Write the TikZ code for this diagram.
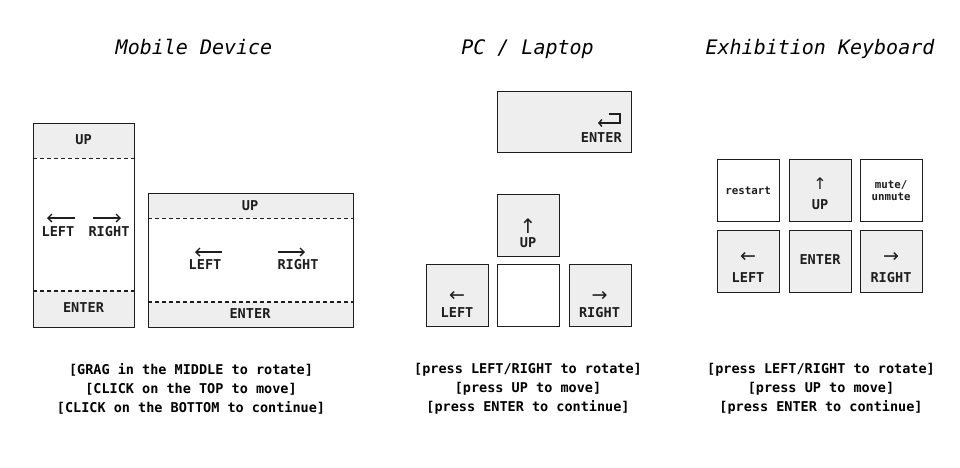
\documentclass[tikz,border=0pt]{standalone}
\usepackage{fontspec}
\newfontfamily\mono{DejaVu Sans Mono}
\newfontfamily\arrowfont{DejaVu Sans}
\usetikzlibrary{arrows.meta}
\definecolor{keyfill}{HTML}{EEEEEE}
\definecolor{keyline}{HTML}{1E1E1E}
\begin{document}
\begin{tikzpicture}[x=1pt,y=-1pt,
  frame/.style={draw=keyline, line width=1.4pt, inner sep=0pt, anchor=north west},
  key/.style={frame, fill=keyfill, minimum width=62pt, minimum height=62pt},
  wkey/.style={frame, fill=white, minimum width=62pt, minimum height=62pt},
  sect/.style={fill=keyfill, inner sep=0pt, anchor=north west},
  lbl/.style={font=\mono\bfseries\fontsize{13.6}{16}\selectfont, text=keyline, inner sep=0pt},
  small/.style={font=\mono\bfseries\fontsize{10.8}{11}\selectfont, text=keyline, inner sep=0pt, align=center},
  title/.style={font=\mono\itshape\fontsize{20}{22}\selectfont, text=black, inner sep=0pt, anchor=base},
  note/.style={font=\mono\bfseries\fontsize{13.5}{19}\selectfont, text=black, inner sep=0pt, align=center},
  sep/.style={draw=keyline, line width=1.4pt, dash pattern=on 4pt off 3pt},
  longarrow/.style={draw=keyline, line width=1.4pt, -{Straight Barb[length=4pt,width=8pt]}},
  arr/.style={font=\arrowfont\fontsize{19}{19}\selectfont, text=keyline, inner sep=0pt},
]
\useasboundingbox[fill=white] (0,0) rectangle (960,467);

% titles
\node[title] (t1) at (194,54) {Mobile Device};
\node[title] (t2) at (527.5,54) {PC / Laptop};
\node[title] (t3) at (820,54) {Exhibition Keyboard};

% ---------- mobile portrait ----------
\node[sect, minimum width=101pt, minimum height=35pt] (pup) at (33,123) {};
\node[sect, minimum width=101pt, minimum height=36pt] (pdn) at (33,291) {};
\path[sep] (pup.south west) -- (pup.south east);
\path[sep] (pdn.north west) -- (pdn.north east);
\node[frame, minimum width=101pt, minimum height=204pt] (port) at (33,123) {};
\node[lbl] (pupl) at (83.5,140) {UP};
\node[lbl] (pdnl) at (83.5,308) {ENTER};
\node[lbl] (pleft) at (58,232) {LEFT};
\node[lbl] (pright) at (109,232) {RIGHT};
\coordinate (pla) at (75,218); \coordinate (plb) at (47,218);
\coordinate (pra) at (93,218); \coordinate (prb) at (121,218);
\path[longarrow] (pla) -- (plb);
\path[longarrow] (pra) -- (prb);

% ---------- mobile landscape ----------
\node[sect, minimum width=205pt, minimum height=25pt] (lup) at (148,193) {};
\node[sect, minimum width=205pt, minimum height=25pt] (ldn) at (148,302) {};
\path[sep] (lup.south west) -- (lup.south east);
\path[sep] (ldn.north west) -- (ldn.north east);
\node[frame, minimum width=205pt, minimum height=134pt] (land) at (148,193) {};
\node[lbl] (lupl) at (250,206) {UP};
\node[lbl] (ldnl) at (250,314) {ENTER};
\node[lbl] (lleft) at (205,265) {LEFT};
\node[lbl] (lright) at (298,265) {RIGHT};
\coordinate (lla) at (222,252); \coordinate (llb) at (195,252);
\coordinate (lra) at (278,252); \coordinate (lrb) at (305,252);
\path[longarrow] (lla) -- (llb);
\path[longarrow] (lra) -- (lrb);

% ---------- PC / laptop ----------
\node[key, minimum width=134pt, minimum height=61pt] (penter) at (497,91) {};
\node[lbl, anchor=east] (penterl) at (622,138) {ENTER};
\coordinate (e1) at (609,114); \coordinate (e2) at (620,114);
\coordinate (e3) at (620,123); \coordinate (e4) at (598,123);
\draw[draw=keyline, line width=1.4pt, -{Straight Barb[length=3pt,width=7pt]}] (e1) -- (e2) -- (e3) -- (e4);

\node[key] (pcup) at (497,194) {};
\node[arr, font=\arrowfont\fontsize{20}{20}\selectfont] (pcupa) at (528,226) {↑};
\node[lbl] (pcupl) at (528,243) {UP};
\node[key] (pcleft) at (426,264) {};
\node[arr] (pclefta) at (457,296) {←};
\node[lbl] (pcleftl) at (457,313) {LEFT};
\node[wkey] (pcmid) at (497,264) {};
\node[key] (pcright) at (569,264) {};
\node[arr] (pcrighta) at (599.5,296) {→};
\node[lbl] (pcrightl) at (599.5,313) {RIGHT};

% ---------- exhibition keyboard ----------
\node[wkey] (xrestart) at (717,159) {};
\node[small] (xrestartl) at (748,191) {restart};
\node[key] (xup) at (789,159) {};
\node[arr, font=\arrowfont\fontsize{16}{16}\selectfont] (xupa) at (820,184) {↑};
\node[lbl] (xupl) at (820,205) {UP};
\node[wkey] (xmute) at (860,159) {};
\node[small, font=\mono\bfseries\fontsize{10.8}{11.5}\selectfont] (xmutel) at (891,190.5) {mute/\\unmute};
\node[key] (xleft) at (717,230) {};
\node[arr] (xlefta) at (748,257) {←};
\node[lbl] (xleftl) at (748,278) {LEFT};
\node[key] (xenter) at (789,230) {};
\node[lbl] (xenterl) at (820,260) {ENTER};
\node[key] (xright) at (860,230) {};
\node[arr] (xrighta) at (891,257) {→};
\node[lbl] (xrightl) at (891,278) {RIGHT};

% notes
\node[note] (n1) at (191,389) {{[GRAG in the MIDDLE to rotate]}\\{[CLICK on the TOP to move]}\\{[CLICK on the BOTTOM to continue]}};
\node[note] (n2) at (528,389) {{[press LEFT/RIGHT to rotate]}\\{[press UP to move]}\\{[press ENTER to continue]}};
\node[note] (n3) at (821,389) {{[press LEFT/RIGHT to rotate]}\\{[press UP to move]}\\{[press ENTER to continue]}};
\end{tikzpicture}
\end{document}
